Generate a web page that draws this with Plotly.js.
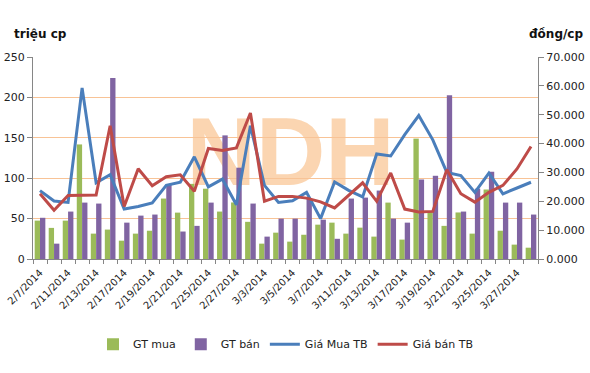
<!DOCTYPE html>
<html>
<head>
<meta charset="utf-8">
<script src="https://cdn.plot.ly/plotly-3.0.1.min.js"></script>
<style>html,body{margin:0;padding:0;background:#fff;}#chart{width:590px;height:373px;}</style>
</head>
<body>
<div id="chart"></div>
<script>
const dates = ["2/7/2014","2/10/2014","2/11/2014","2/12/2014","2/13/2014","2/14/2014","2/17/2014","2/18/2014","2/19/2014","2/20/2014","2/21/2014","2/24/2014","2/25/2014","2/26/2014","2/27/2014","2/28/2014","3/3/2014","3/4/2014","3/5/2014","3/6/2014","3/7/2014","3/10/2014","3/11/2014","3/12/2014","3/13/2014","3/14/2014","3/17/2014","3/18/2014","3/19/2014","3/20/2014","3/21/2014","3/24/2014","3/25/2014","3/26/2014","3/27/2014","3/28/2014"];
const gtMua = [47.5, 38.5, 47.5, 141.8, 31.4, 36.4, 22.7, 31.4, 35, 74.8, 57.4, 93, 87, 58.7, 70, 46, 19, 32.6, 21.5, 30, 42.5, 45, 31.4, 38.8, 27.7, 69.8, 24, 149, 58.3, 41, 57.6, 31.4, 86, 35, 17.8, 14];
const gtBan = [51, 19, 58.7, 69.8, 68.6, 224, 45, 53.7, 55, 92, 34, 41, 69.8, 153, 113, 68.6, 27.7, 50, 50, 74.8, 48.7, 25, 74.8, 76, 84.7, 50, 45, 98.4, 103, 202.6, 58.7, 87, 108, 69.8, 69.8, 55];
const giaMuaTB = [23700, 20100, 19600, 59300, 26400, 29200, 17300, 18200, 19400, 25500, 26600, 35400, 25000, 27700, 18800, 46200, 25500, 19600, 20200, 23100, 14000, 26700, 23800, 21500, 36400, 35700, 43100, 49700, 41300, 30000, 28900, 23100, 29800, 22600, 24600, 26600];
const giaBanTB = [22600, 16900, 22000, 22200, 22200, 46200, 18200, 31300, 25400, 28500, 29200, 23500, 38300, 37600, 38500, 50600, 20000, 21700, 21700, 21100, 19800, 17700, 22000, 26400, 20000, 29800, 17300, 16300, 16500, 30900, 22600, 19700, 23100, 25500, 31200, 39000];
const leftTicks = [0, 50, 100, 150, 200, 250];
const rightTicks = [0, 10000, 20000, 30000, 40000, 50000, 60000, 70000];
const rightTickText = ["0.000","10.000","20.000","30.000","40.000","50.000","60.000","70.000"];
const seriesNames = ["GT mua", "GT bán", "Giá Mua TB", "Giá bán TB"];

const xTickText = dates.map((d, i) => (i % 2 === 0 ? d : ""));
const font = "DejaVu Sans, Verdana, sans-serif";

const traces = [
  {type: "bar", name: seriesNames[0], x: dates, y: gtMua, marker: {color: "#9BBB59", line: {width: 0}}, yaxis: "y"},
  {type: "bar", name: seriesNames[1], x: dates, y: gtBan, marker: {color: "#8064A2", line: {width: 0}}, yaxis: "y"},
  {type: "scatter", mode: "lines", name: seriesNames[2], x: dates, y: giaMuaTB, line: {color: "#4A7EBB", width: 3}, yaxis: "y2"},
  {type: "scatter", mode: "lines", name: seriesNames[3], x: dates, y: giaBanTB, line: {color: "#BE4B48", width: 3}, yaxis: "y2"}
];

const layout = {
  width: 590, height: 373,
  margin: {l: 33, r: 52, t: 57, b: 114, pad: 0, autoexpand: false},
  paper_bgcolor: "#fff", plot_bgcolor: "#fff",
  font: {family: font, size: 11, color: "#222"},
  barmode: "group", bargap: 0.24, bargroupgap: 0,
  showlegend: true,
  legend: {orientation: "h", x: 0.5, xanchor: "center", y: -0.35, yanchor: "top",
           font: {family: font, size: 11, color: "#222"}, traceorder: "normal", itemwidth: 30},
  xaxis: {type: "category", tickmode: "array", tickvals: dates, ticktext: xTickText, tickangle: -45,
          tickson: "boundaries", ticks: "outside", ticklen: 4, tickcolor: "#868686", ticklabelstandoff: 3,
          showline: true, linecolor: "#868686", linewidth: 1, showgrid: false, automargin: false,
          tickfont: {family: font, size: 10, color: "#222"}, range: [-0.5, dates.length - 0.5]},
  yaxis: {range: [0, 250], tickmode: "array", tickvals: leftTicks, ticks: "outside", ticklen: 5, tickcolor: "#868686",
          showline: true, linecolor: "#868686", linewidth: 1, showgrid: true, gridcolor: "#F8C396", gridwidth: 1,
          zeroline: false, automargin: false, tickfont: {family: font, size: 11, color: "#222"}},
  yaxis2: {overlaying: "y", side: "right", range: [0, 70000], tickmode: "array", tickvals: rightTicks, ticktext: rightTickText,
           ticks: "outside", ticklen: 5, tickcolor: "#868686", showline: true, linecolor: "#868686", linewidth: 1,
           showgrid: false, zeroline: false, automargin: false, tickfont: {family: font, size: 11, color: "#222"}},
  shapes: [{type: "rect", xref: "paper", yref: "paper", x0: 0.3, x1: 0.72, y0: 0.4, y1: 0.75, layer: "between",
            line: {width: 0}, fillcolor: "rgba(0,0,0,0)",
            label: {text: "NDH", textposition: "middle center",
                    font: {family: "Liberation Sans, Arial, sans-serif", size: 96, weight: "bold", color: "rgba(247,172,100,0.5)"}}}],
  annotations: [
    {text: "<b>triệu cp</b>", xref: "paper", yref: "paper", x: -0.042, y: 1.115, xanchor: "left", yanchor: "middle",
     showarrow: false, font: {family: font, size: 12, color: "#111"}},
    {text: "<b>đồng/cp</b>", xref: "paper", yref: "paper", x: 1.094, y: 1.115, xanchor: "right", yanchor: "middle",
     showarrow: false, font: {family: font, size: 12, color: "#111"}}
  ]
};

Plotly.newPlot("chart", traces, layout, {displayModeBar: false, staticPlot: true});
</script>
</body>
</html>
